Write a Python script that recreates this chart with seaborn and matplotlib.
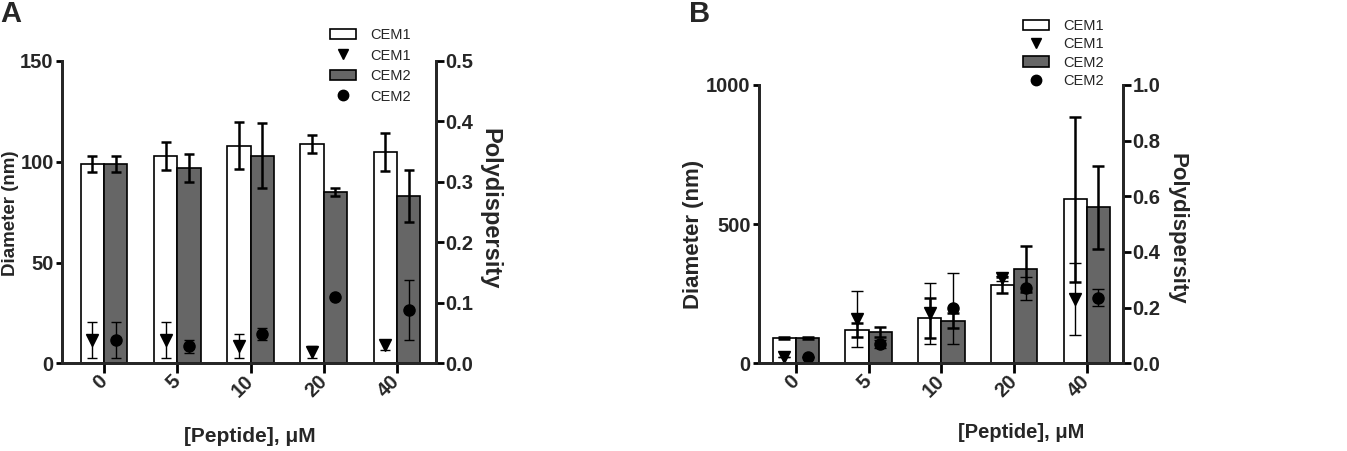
import matplotlib
matplotlib.use("Agg")
import matplotlib.pyplot as plt
import matplotlib.lines as mlines
import matplotlib.patches as mpatches
import seaborn as sns
import pandas as pd

conc = ['0', '5', '10', '20', '40']
cells = ['CEM1', 'CEM2']

# panel A: diameter (nm), bars
a_diam_cem1 = [99, 103, 108, 109, 105]
a_diam_cem1_sd = [4, 7, 11.5, 4.5, 9.5]
a_diam_cem2 = [99, 97, 103, 85, 83]
a_diam_cem2_sd = [4, 7, 16, 2, 13]
# panel A: polydispersity, markers
a_pdi_cem1 = [0.039, 0.039, 0.029, 0.019, 0.03]
a_pdi_cem1_sd = [0.03, 0.03, 0.02, 0.01, 0.008]
a_pdi_cem2 = [0.039, 0.028, 0.049, 0.109, 0.088]
a_pdi_cem2_sd = [0.03, 0.011, 0.01, 0.0, 0.05]

# panel B
b_diam_cem1 = [90, 120, 162, 281, 589]
b_diam_cem1_sd = [4, 24, 72, 30, 296]
b_diam_cem2 = [90, 111, 153, 338, 560]
b_diam_cem2_sd = [4, 18, 27, 83, 150]
b_pdi_cem1 = [0.024, 0.16, 0.18, 0.305, 0.23]
b_pdi_cem1_sd = [0.0, 0.1, 0.11, 0.01, 0.13]
b_pdi_cem2 = [0.022, 0.069, 0.197, 0.269, 0.236]
b_pdi_cem2_sd = [0.0, 0.015, 0.128, 0.04, 0.031]

sns.set_style("ticks")
plt.rcParams['font.family'] = ['Liberation Sans', 'DejaVu Sans']
plt.rcParams['font.weight'] = 'bold'
plt.rcParams['axes.labelweight'] = 'bold'

W, H = 1347, 451
fig = plt.figure(figsize=(W / 100, H / 100), dpi=100)

palette = {'CEM1': 'white', 'CEM2': '#666666'}


def px(x, y):
    return x / W, 1 - y / H


def panel(box, xlim, cap, fs, d1, d1sd, d2, d2sd, p1, p1sd, p2, p2sd,
          ylim, yticks, y2lim, y2ticks):
    left, top, right, bottom = box
    ax = fig.add_axes([left / W, 1 - bottom / H, (right - left) / W, (bottom - top) / H])
    df = pd.DataFrame({'conc': conc * 2,
                       'cell': ['CEM1'] * 5 + ['CEM2'] * 5,
                       'diam': d1 + d2})
    sns.barplot(data=df, x='conc', y='diam', hue='cell', order=conc, hue_order=cells,
                palette=palette, saturation=1, width=0.64, edgecolor='black',
                linewidth=1.2, errorbar=None, legend=False, ax=ax)
    xs1 = [p.get_x() + p.get_width() / 2 for p in ax.containers[0]]
    xs2 = [p.get_x() + p.get_width() / 2 for p in ax.containers[1]]
    ax.errorbar(xs1, d1, yerr=d1sd, fmt='none', ecolor='black', elinewidth=1.8,
                capsize=cap, capthick=1.8, zorder=5)
    ax.errorbar(xs2, d2, yerr=d2sd, fmt='none', ecolor='black', elinewidth=1.8,
                capsize=cap, capthick=1.8, zorder=5)
    ax.set_xlim(*xlim)
    ax.set_ylim(*ylim)
    ax.set_yticks(yticks)
    ax.set_xlabel('')
    ax.set_ylabel('')
    ax2 = ax.twinx()
    ax2.errorbar(xs1, p1, yerr=p1sd, fmt='v', color='black', ms=8.5, elinewidth=1.0,
                 capsize=cap, capthick=1.0)
    ax2.errorbar(xs2, p2, yerr=p2sd, fmt='o', color='black', ms=8, elinewidth=1.0,
                 capsize=cap, capthick=1.0)
    ax2.set_ylim(*y2lim)
    ax2.set_yticks(y2ticks)
    ax2.set_yticklabels([f'{t:.1f}' for t in y2ticks])
    for a in (ax, ax2):
        a.spines['top'].set_visible(False)
        for s in ('left', 'right', 'bottom'):
            a.spines[s].set_linewidth(2)
        a.tick_params(axis='both', direction='out', length=5.5, width=2,
                      labelsize=fs, color='black')
    ax.tick_params(axis='x', length=7)
    ax.tick_params(axis='y', length=4.5, pad=1.5)
    ax2.tick_params(axis='y', pad=1.5)
    for lab in ax.get_xticklabels():
        lab.set_rotation(45)
        lab.set_ha('right')
        lab.set_rotation_mode('anchor')
        lab.set_va('center')
    return ax, ax2


ax_a, ax_a2 = panel((62, 61, 436, 363.3), (-0.573, 4.532), 3.8, 14.5,
                    a_diam_cem1, a_diam_cem1_sd, a_diam_cem2, a_diam_cem2_sd,
                    a_pdi_cem1, a_pdi_cem1_sd, a_pdi_cem2, a_pdi_cem2_sd,
                    (0, 150), [0, 50, 100, 150], (0, 0.5), [0, 0.1, 0.2, 0.3, 0.4, 0.5])
ax_b, ax_b2 = panel((759, 85, 1123, 363.3), (-0.509, 4.498), 4.5, 14.5,
                    b_diam_cem1, b_diam_cem1_sd, b_diam_cem2, b_diam_cem2_sd,
                    b_pdi_cem1, b_pdi_cem1_sd, b_pdi_cem2, b_pdi_cem2_sd,
                    (0, 1000), [0, 500, 1000], (0, 1.0), [0, 0.2, 0.4, 0.6, 0.8, 1.0])

lab_kw = dict(fontweight='bold', ha='center', va='center')
fig.text(*px(11, 213), 'Diameter (nm)', rotation=90, fontsize=13.5, **lab_kw)
fig.text(*px(490, 209), 'Polydispersity', rotation=270, fontsize=17, **lab_kw)
fig.text(*px(250, 437), '[Peptide], \u03bcM', fontsize=15, **lab_kw)
fig.text(*px(694, 234), 'Diameter (nm)', rotation=90, fontsize=16, **lab_kw)
fig.text(*px(1177, 229), 'Polydispersity', rotation=270, fontsize=16, **lab_kw)
fig.text(*px(1021, 433), '[Peptide], \u03bcM', fontsize=14.5, **lab_kw)

fig.text(*px(0, 0), 'A', fontsize=21, fontweight='bold', ha='left', va='top')
fig.text(*px(689, 0), 'B', fontsize=21, fontweight='bold', ha='left', va='top')


def legend_handles():
    return [mpatches.Patch(facecolor='white', edgecolor='black', linewidth=1.2),
            mlines.Line2D([], [], color='black', marker='v', ls='none', ms=7.5),
            mpatches.Patch(facecolor='#666666', edgecolor='black', linewidth=1.2),
            mlines.Line2D([], [], color='black', marker='o', ls='none', ms=7.5)]


labels = ['CEM1', 'CEM1', 'CEM2', 'CEM2']
for x0, y0, sp in ((330, 28, 0.45), (1023, 19, 0.3)):
    fig.legend(legend_handles(), labels, loc='upper left', bbox_to_anchor=px(x0, y0),
               frameon=False, borderpad=0, borderaxespad=0, handlelength=1.75,
               handleheight=0.75, handletextpad=1.0, labelspacing=sp,
               prop={'size': 10.5, 'weight': 'normal'})

fig.savefig('out.png', dpi=100)
